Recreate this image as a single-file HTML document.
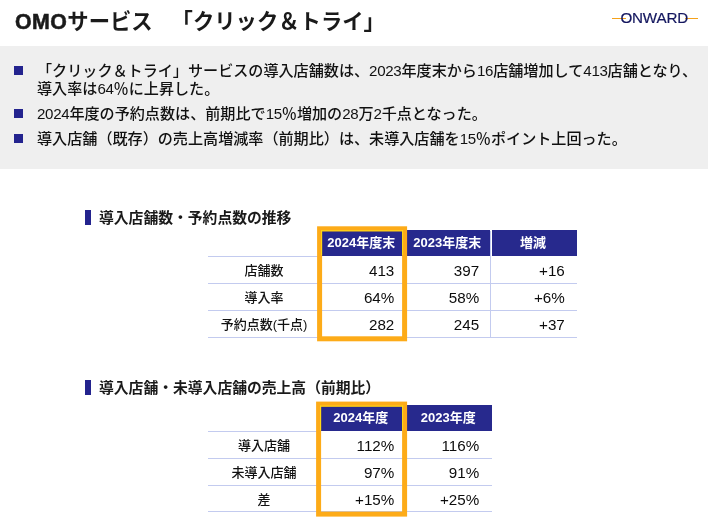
<!DOCTYPE html>
<html lang="ja">
<head>
<meta charset="utf-8">
<title>OMOサービス 「クリック＆トライ」</title>
<style>
html,body{margin:0;padding:0;}
body{width:708px;height:526px;position:relative;overflow:hidden;background:#fff;
  font-family:"Liberation Sans","Noto Sans CJK JP",sans-serif;color:#1a1a1a;}
.abs{position:absolute;white-space:nowrap;}
.title{left:15px;top:5.7px;font-size:21.33px;font-weight:bold;line-height:32px;color:#1a1a1a;}
.grey{left:0;top:45.8px;width:708px;height:122.8px;background:#efefef;}
.bul{width:8.7px;height:8.7px;background:#23238e;left:14.4px;margin-top:0.3px;}
.txt{left:37px;font-size:15.1px;line-height:17.3px;color:#111;font-weight:500;}
.d{letter-spacing:-0.3px;}
.sec{font-size:14.8px;font-weight:bold;line-height:18px;left:99px;color:#1a1a1a;}
.bar{left:85px;width:6px;height:14.5px;background:#23238e;}
.hd{background:#27298d;color:#fff;font-weight:bold;font-size:13px;text-align:center;height:25.7px;line-height:25.7px;box-sizing:border-box;padding-right:2.6px;}
.hl{height:1px;background:#c3cbef;}
.vl{width:1px;background:#c3cbef;}
.lab{font-weight:500;color:#111;font-size:13px;text-align:center;line-height:20px;width:112px;left:208px;}
.num{color:#0c0c0c;font-size:15.2px;text-align:right;line-height:20px;}
.obox{border:5px solid #fdab18;box-sizing:border-box;}
.yl{border:1px solid #ffdc14;border-bottom:none;box-sizing:border-box;height:25px;}
</style>
</head>
<body>
<div class="abs title"><span style="letter-spacing:0.45px;-webkit-text-stroke:0.55px #1a1a1a;">OMO</span>サービス　<span style="position:absolute;left:156.6px;top:0">「クリック＆トライ」</span></div>

<!-- logo -->
<div class="abs" style="left:612px;top:17.5px;width:14px;height:1.5px;background:#f5a21a;"></div>
<div class="abs" style="left:684.5px;top:17.5px;width:13.5px;height:1.5px;background:#f5a21a;"></div>
<div class="abs" style="left:620.4px;top:8.35px;font-size:15.2px;line-height:20px;color:#14175f;letter-spacing:-0.15px;-webkit-text-stroke:0.2px #14175f;">ONWARD</div>

<div class="abs grey"></div>
<div class="abs bul" style="top:66px;"></div>
<div class="abs txt" style="top:62.25px;">「クリック＆トライ」サービスの導入店舗数は、<span class="d">2023</span>年度末から<span class="d">16</span>店舗増加して<span class="d">413</span>店舗となり、<br>導入率は<span class="d">64</span>％に上昇した。</div>
<div class="abs bul" style="top:109px;"></div>
<div class="abs txt" style="top:105.3px;"><span class="d">2024</span>年度の予約点数は、前期比で<span class="d">15</span>％増加の<span class="d">28</span>万<span class="d">2</span>千点となった。</div>
<div class="abs bul" style="top:134px;"></div>
<div class="abs txt" style="top:130.2px;">導入店舗（既存）の売上高増減率（前期比）は、未導入店舗を<span class="d">15</span>％ポイント上回った。</div>

<!-- section 1 -->
<div class="abs bar" style="top:210px;"></div>
<div class="abs sec" style="top:208.7px;">導入店舗数・予約点数の推移</div>

<div class="abs hd" style="left:321px;top:230px;width:83px;">2024年度末</div>
<div class="abs hd" style="left:407px;top:230px;width:83.2px;">2023年度末</div>
<div class="abs hd" style="left:492px;top:230px;width:84.6px;">増減</div>

<div class="abs hl" style="left:208px;top:256px;width:113px;"></div>
<div class="abs hl" style="left:208px;top:283px;width:368.6px;"></div>
<div class="abs hl" style="left:208px;top:310px;width:368.6px;"></div>
<div class="abs hl" style="left:208px;top:336.9px;width:368.6px;"></div>
<div class="abs vl" style="left:490px;top:231px;height:107px;"></div>

<div class="abs lab" style="top:261px;">店舗数</div>
<div class="abs lab" style="top:288px;">導入率</div>
<div class="abs lab" style="top:315px;">予約点数(千点)</div>

<div class="abs num" style="left:321px;width:73.3px;top:261px;">413</div>
<div class="abs num" style="left:321px;width:73.3px;top:288px;">64%</div>
<div class="abs num" style="left:321px;width:73.3px;top:315px;">282</div>
<div class="abs num" style="left:407px;width:72.2px;top:261px;">397</div>
<div class="abs num" style="left:407px;width:72.2px;top:288px;">58%</div>
<div class="abs num" style="left:407px;width:72.2px;top:315px;">245</div>
<div class="abs num" style="left:492px;width:72.8px;top:261px;">+16</div>
<div class="abs num" style="left:492px;width:72.8px;top:288px;">+6%</div>
<div class="abs num" style="left:492px;width:72.8px;top:315px;">+37</div>

<div class="abs obox" style="left:317px;top:226px;width:90px;height:115px;transform:translate(0.1px,0.3px);"></div>
<div class="abs yl" style="left:321px;top:230px;width:82px;transform:translate(0.1px,0.3px);"></div>

<!-- section 2 -->
<div class="abs bar" style="top:380.3px;"></div>
<div class="abs sec" style="top:379.2px;">導入店舗・未導入店舗の売上高（前期比）</div>

<div class="abs hd" style="left:320px;top:405px;width:84px;">2024年度</div>
<div class="abs hd" style="left:407px;top:405px;width:85px;">2023年度</div>

<div class="abs hl" style="left:208px;top:431px;width:112px;"></div>
<div class="abs hl" style="left:208px;top:457.9px;width:284px;"></div>
<div class="abs hl" style="left:208px;top:484.9px;width:284px;"></div>
<div class="abs hl" style="left:208px;top:510.9px;width:284px;"></div>

<div class="abs lab" style="top:436px;">導入店舗</div>
<div class="abs lab" style="top:463px;">未導入店舗</div>
<div class="abs lab" style="top:490px;">差</div>

<div class="abs num" style="left:321px;width:73.3px;top:436px;">112%</div>
<div class="abs num" style="left:321px;width:73.3px;top:463px;">97%</div>
<div class="abs num" style="left:321px;width:73.3px;top:490px;">+15%</div>
<div class="abs num" style="left:407px;width:72.2px;top:436px;">116%</div>
<div class="abs num" style="left:407px;width:72.2px;top:463px;">91%</div>
<div class="abs num" style="left:407px;width:72.2px;top:490px;">+25%</div>

<div class="abs obox" style="left:316px;top:401px;width:91px;height:115px;transform:translate(0.1px,0.6px);"></div>
<div class="abs yl" style="left:320px;top:405px;width:83px;transform:translate(0.1px,0.6px);"></div>
</body>
</html>
